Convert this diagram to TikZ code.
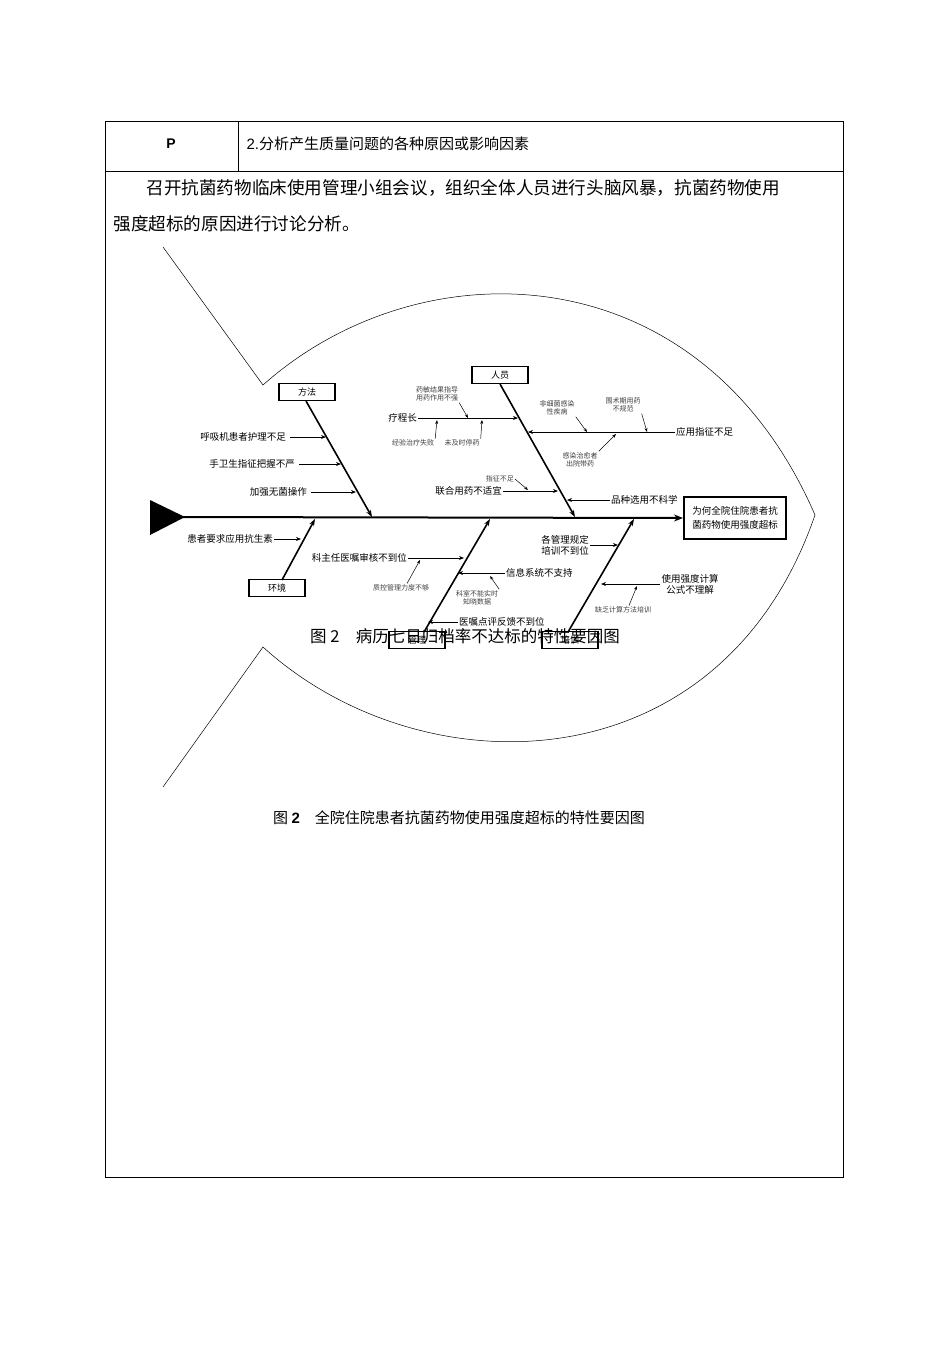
\documentclass[tikz,border=0pt]{standalone}
\usepackage{fontspec}
\setmainfont{Liberation Sans}
\newfontfamily\cjk{Noto Sans CJK SC}
\usetikzlibrary{arrows.meta}
\begin{document}
\begin{tikzpicture}[x=1pt,y=-1pt,
 lab/.style={font=\cjk\fontsize{9.5}{11}\selectfont,inner sep=1pt},
 sm/.style={font=\cjk\fontsize{7}{8.5}\selectfont,inner sep=1pt,align=center,text=black!75},
 cat/.style={draw,line width=1.2pt,minimum width=56pt,minimum height=17pt,font=\cjk\fontsize{9}{9}\selectfont,inner sep=0pt},
 bone/.style={line width=1.6pt,-{Stealth[length=7pt,width=5pt]}},
 arr/.style={line width=0.9pt,-{Stealth[length=5pt,width=4pt]}},
 sarr/.style={line width=0.5pt,-{Stealth[length=4pt,width=3pt]}}]
\useasboundingbox (0,0) rectangle (950,1345);
% table
\draw[line width=0.6pt] (105,121) rectangle (843,1177);
\draw[line width=0.6pt] (105,171) -- (843,171) (238,121) -- (238,171);
\node (p) at (171,144) {\bfseries\fontsize{14}{16}\selectfont P};
\node[anchor=west] (h) at (243,144) {\fontsize{15}{16}\selectfont 2.\cjk 分析产生质量问题的各种原因或影响因素};
\node[anchor=west] (t1) at (143,188) {\cjk\fontsize{17.6}{19}\selectfont 召开抗菌药物临床使用管理小组会议，组织全体人员进行头脑风暴，抗菌药物使用};
\node[anchor=west] (t2) at (110,224) {\cjk\fontsize{17.6}{19}\selectfont 强度超标的原因进行讨论分析。};
% fish outline
\draw[line width=0.5pt] (163,247) -- (263,385) .. controls (420,245) and (700,250) .. (815,515)
  .. controls (720,790) and (420,790) .. (263,647) -- (163,787);
% head triangle
\fill (150,500) -- (185,517) -- (150,535) -- cycle;
\node[draw,line width=2pt,align=center,font=\cjk\fontsize{9.5}{14}\selectfont,minimum width=102pt,minimum height=42pt] (eff) at (735,518) {为何全院住院患者抗\\菌药物使用强度超标};
\coordinate (tail) at (183,517);
\draw[line width=2pt,-{Stealth[length=9pt,width=7pt]}] (tail) -- (eff.west);
% categories
\node[cat] (ff) at (307,392) {方法};
\node[cat] (ry) at (500,375) {人员};
\node[cat] (hj) at (277,588) {环境};
\node[cat] (gl) at (417,640) {管理};
\node[cat] (px) at (570,640) {培训};
\coordinate (ffe) at (372,517); \coordinate (rye) at (575,517);
\coordinate (hje) at (315,519); \coordinate (gle) at (490,519); \coordinate (pxe) at (634,519);
\draw[bone] (306,401) -- (ffe);
\draw[bone] (500,384) -- (rye);
\draw[bone] (282,580) -- (hje);
\draw[bone] (424,632) -- (gle);
\draw[bone] (568,632) -- (pxe);
% 方法
\node[lab,anchor=east] (a1) at (287,437) {呼吸机患者护理不足};
\draw[arr] (a1.east) ++(3,0) -- (326,437);
\node[lab,anchor=east] (a2) at (296,464) {手卫生指征把握不严};
\draw[arr] (a2.east) ++(3,0) -- (341,464);
\node[lab,anchor=east] (a3) at (308,492) {加强无菌操作};
\draw[arr] (a3.east) ++(3,0) -- (356,492);
% 人员
\node[lab,anchor=east] (b1) at (418,418) {疗程长};
\draw[arr] (b1.east) -- (518,418);
\node[sm] (b2) at (437,394) {药敏结果指导\\用药作用不强};
\draw[sarr] (b2.south east) -- (468,418);
\node[sm] (b3) at (413,443) {经验治疗失败};
\draw[sarr] (b3.north east) -- (437,420);
\node[sm] (b4) at (462,443) {未及时停药};
\draw[sarr] (b4.north east) -- (482,420);
\node[lab,anchor=west] (b5) at (675,432) {应用指征不足};
\draw[arr] (b5.west) -- (528,432);
\node[sm] (b6) at (557,408) {非细菌感染\\性疾病};
\draw[sarr] (b6.south east) -- (587,432);
\node[sm] (b7) at (623,405) {围术期用药\\不规范};
\draw[sarr] (b7.south east) -- (647,432);
\node[sm] (b8) at (580,460) {感染治愈者\\出院带药};
\draw[sarr] (b8.north east) -- (616,434);
\node[lab,anchor=east] (b9) at (503,491) {联合用药不适宜};
\draw[arr] (b9.east) -- (558,491);
\node[sm,anchor=east] (b10) at (515,479) {指征不足};
\draw[sarr] (b10.east) -- (528,490);
\node[lab,anchor=west] (b11) at (610,500) {品种选用不科学};
\draw[arr] (b11.west) -- (567,500);
% 环境
\node[lab,anchor=east] (c1) at (274,539) {患者要求应用抗生素};
\draw[arr] (c1.east) -- (301,539);
% 管理
\node[lab,anchor=east] (d1) at (408,558) {科主任医嘱审核不到位};
\draw[arr] (d1.east) -- (464,558);
\node[sm] (d2) at (401,588) {质控管理力度不够};
\draw[sarr] (d2.north) ++(6,0) -- (420,560);
\node[lab,anchor=west] (d3) at (505,573) {信息系统不支持};
\draw[arr] (d3.west) -- (458,573);
\node[sm] (d4) at (477,598) {科室不能实时\\知晓数据};
\draw[sarr] (d4.north east) -- (490,576);
\node[lab,anchor=west] (d5) at (458,622) {医嘱点评反馈不到位};
\draw[arr] (d5.west) -- (428,622);
% 培训
\node[lab,align=center] (e1) at (565,545) {各管理规定\\培训不到位};
\draw[arr] (e1.east) -- (618,545);
\node[lab,align=center] (e2) at (690,584) {使用强度计算\\公式不理解};
\draw[arr] (e2.west) -- (601,584);
\node[sm] (e3) at (623,610) {缺乏计算方法培训};
\draw[sarr] (e3.north) ++(6,0) -- (637,586);
% captions
\node (cap1) at (465,636) {\fontsize{16.5}{18}\selectfont\cjk 图 2\quad 病历七日归档率不达标的特性要因图};
\node (cap2) at (459,818) {\fontsize{15}{16}\selectfont\cjk 图 {\rmfamily\bfseries 2}\quad 全院住院患者抗菌药物使用强度超标的特性要因图};
\end{tikzpicture}
\end{document}
